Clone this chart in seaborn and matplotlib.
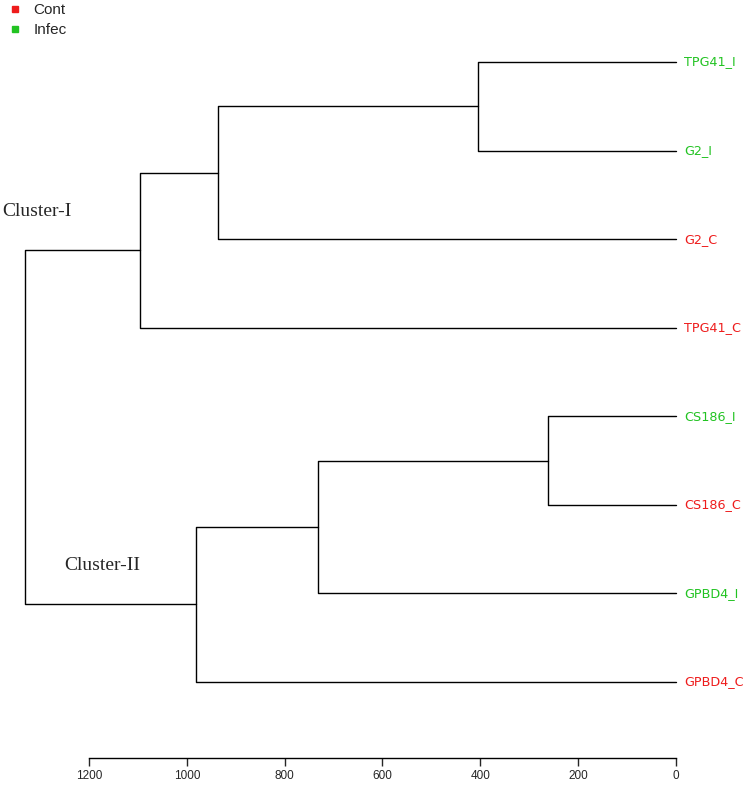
import matplotlib
matplotlib.use("Agg")
import matplotlib.pyplot as plt
import seaborn as sns
from matplotlib.lines import Line2D

sns.set_style("white")
plt.rcParams['font.family'] = ['Liberation Sans', 'DejaVu Sans']

# leaves in plotted order (top to bottom) and their group
leaves = ["TPG41_I", "G2_I", "G2_C", "TPG41_C", "CS186_I", "CS186_C", "GPBD4_I", "GPBD4_C"]
groups = ["Infec", "Infec", "Cont", "Cont", "Infec", "Cont", "Infec", "Cont"]
# merges: (child a, child b, height); new clusters numbered from len(leaves)
merge_a = [0, 8, 9, 4, 11, 12, 10]
merge_b = [1, 2, 3, 5, 6, 7, 13]
heights = [405, 936, 1096, 262, 732, 981, 1331]
ticks = [1200, 1000, 800, 600, 400, 200, 0]

colors = {"Cont": "#EE1C1C", "Infec": "#22C322"}

fig, ax = plt.subplots(figsize=(7.5, 7.88), dpi=100)
ax.set_position([0, 0, 1, 1])

# position/height of each node
ypos = {i: i + 1 for i in range(len(leaves))}
xpos = {i: 0 for i in range(len(leaves))}
for k, (a, b, h) in enumerate(zip(merge_a, merge_b, heights)):
    node = len(leaves) + k
    ax.plot([xpos[a], h, h, xpos[b]], [ypos[a], ypos[a], ypos[b], ypos[b]],
            color="black", lw=1)
    ypos[node] = (ypos[a] + ypos[b]) / 2
    xpos[node] = h

for i, (lab, g) in enumerate(zip(leaves, groups)):
    ax.text(-16, i + 1, lab, color=colors[g], fontsize=9.2, va="center", ha="left",
            family="DejaVu Sans")

# axis layout
ax.set_xlim(1200 + 89 / 0.4892, -74 / 0.4892)
ax.set_ylim(9.197, 0.30)
for s in ["top", "left", "right"]:
    ax.spines[s].set_visible(False)
ax.spines["bottom"].set_position(("data", 8.86))
ax.spines["bottom"].set_bounds(0, 1200)
ax.spines["bottom"].set_color("black")
ax.spines["bottom"].set_linewidth(1)
ax.set_xticks(ticks)
ax.set_xticklabels([str(t) for t in ticks])
ax.tick_params(axis="x", bottom=True, length=6, width=1, pad=2.5, labelsize=8.5)
ax.set_yticks([])

fig.text(2 / 750, 1 - 211 / 788, "Cluster-I", family="Liberation Serif", fontsize=14,
         va="center", ha="left")
fig.text(64 / 750, 1 - 565 / 788, "Cluster-II", family="Liberation Serif", fontsize=14,
         va="center", ha="left")

handles = [Line2D([], [], marker="s", ls="", color=colors[g], markersize=4.5) for g in ["Cont", "Infec"]]
fig.legend(handles, ["Cont", "Infec"], loc="upper left", bbox_to_anchor=(0.006, 0.998),
           frameon=False, fontsize=11, handlelength=1.2, handletextpad=0.6,
           labelspacing=0.4, borderaxespad=0.0, borderpad=0.1)

fig.savefig("out.png", dpi=100)
